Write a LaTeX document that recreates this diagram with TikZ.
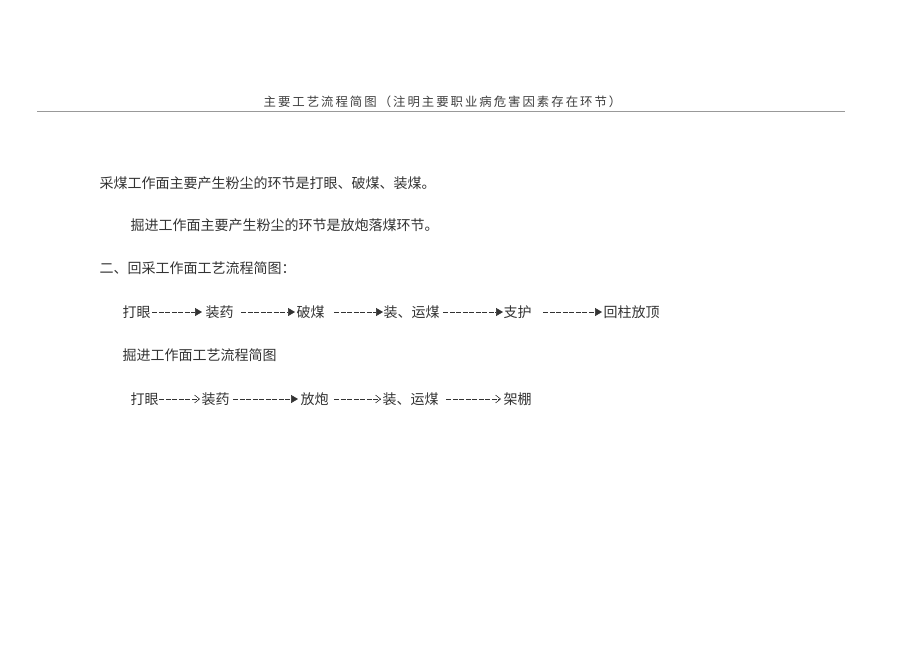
\documentclass[tikz,border=0pt]{standalone}
\usepackage{fontspec}
\usepackage{tikz}
\usetikzlibrary{arrows.meta}
\newfontfamily\cjk{Noto Sans CJK SC}
\newfontfamily\cjktitle[LetterSpace=16]{Noto Sans CJK SC}

\begin{document}
\begin{tikzpicture}[
    x=1pt, y=-1pt,
    heading/.style={anchor=west, inner sep=0pt, text=black!75, font=\cjktitle\fontsize{12.4}{14}\selectfont},
    para/.style={anchor=west, inner sep=0pt, text=black!80, font=\cjk\fontsize{14}{16}\selectfont},
    rule/.style={draw=black!40, line width=0.8pt},
    flow/.style={draw=black!80, line width=0.6pt, dash pattern=on 5pt off 1.5pt},
    solidtip/.style={flow, -{Triangle[length=7pt,width=8pt]}},
    opentip/.style={flow, -{Straight Barb[length=5pt,width=8pt]}}
]

% Page
\fill[white] (0,0) rectangle (920,651);
\useasboundingbox (0,0) rectangle (920,651);

% Title and rule
\node[heading] at (263.5,102) (title) {主要工艺流程简图（注明主要职业病危害因素存在环节）};
\coordinate (ruleleft) at (37,111.5);
\coordinate (ruleright) at (845,111.5);
\draw[rule] (ruleleft) -- (ruleright);

% Text lines
\node[para] at (99.5,183) (cmdust) {采煤工作面主要产生粉尘的环节是打眼、破煤、装煤。};
\node[para] at (130.5,225) (jjdust) {掘进工作面主要产生粉尘的环节是放炮落煤环节。};
\node[para] at (99.5,268) (cmhead) {二、回采工作面工艺流程简图：};

% Coal face flow
\node[para] at (122.5,312) (cm1) {打眼};
\node[para] at (205.5,312) (cm2) {装药};
\node[para] at (296.5,312) (cm3) {破煤};
\node[para] at (383.5,312) (cm4) {装、运煤};
\node[para] at (503.5,312) (cm5) {支护};
\node[para] at (603.5,312) (cm6) {回柱放顶};

% Heading face
\node[para] at (122.5,355) (jjhead) {掘进工作面工艺流程简图};

% Heading face flow
\node[para] at (130.5,399) (jj1) {打眼};
\node[para] at (201.5,399) (jj2) {装药};
\node[para] at (300.5,399) (jj3) {放炮};
\node[para] at (382.5,399) (jj4) {装、运煤};
\node[para] at (503.5,399) (jj5) {架棚};

% Arrows coal face
\draw[solidtip, shorten <=1.5pt, shorten >=3.5pt] (cm1) -- (cm2);
\draw[solidtip, shorten <=7.5pt, shorten >=1.5pt] (cm2) -- (cm3);
\draw[solidtip, shorten <=9.5pt, shorten >=0.5pt] (cm3) -- (cm4);
\draw[solidtip, shorten <=3.5pt, shorten >=0.5pt] (cm4) -- (cm5);
\draw[solidtip, shorten <=11.5pt, shorten >=1.5pt] (cm5) -- (cm6);

% Arrows heading face
\draw[opentip, shorten <=0.5pt, shorten >=1.5pt] (jj1) -- (jj2);
\draw[solidtip, shorten <=3.5pt, shorten >=2.5pt] (jj2) -- (jj3);
\draw[opentip, shorten <=5.5pt, shorten >=1.5pt] (jj3) -- (jj4);
\draw[opentip, shorten <=7.5pt, shorten >=2.5pt] (jj4) -- (jj5);

\end{tikzpicture}
\end{document}
